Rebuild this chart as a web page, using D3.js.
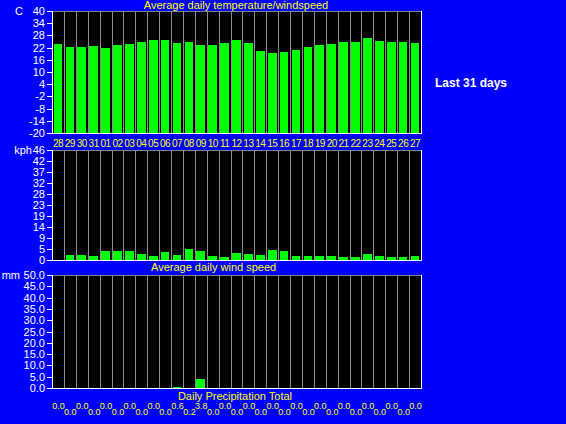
<!DOCTYPE html>
<html><head><meta charset="utf-8">
<script src="https://cdn.jsdelivr.net/npm/d3@7/dist/d3.min.js"></script>
<style>
html,body{margin:0;padding:0;background:#0000ff;}
svg{display:block;}
text{font-family:"Liberation Sans",Arial,sans-serif;}
</style></head><body>
<script>
const dates = ["28","29","30","31","01","02","03","04","05","06","07","08","09","10","11","12","13","14","15","16","17","18","19","20","21","22","23","24","25","26","27"];
const temps = [23.6,22.1,22.1,22.6,21.6,23.1,23.6,24.6,25.5,25.5,24.1,24.6,23.1,23.1,24.1,25.5,24.1,20.1,19.1,19.6,20.6,22.1,23.1,23.6,24.6,24.6,26.5,25.1,24.6,24.6,24.1];
const winds = [0,2.0,2.0,1.5,3.7,3.7,3.7,2.4,1.5,3.2,2.0,4.5,3.7,1.5,1.1,2.8,2.4,2.0,4.1,3.7,1.5,1.5,1.5,1.5,1.1,1.1,2.4,1.5,1.1,1.1,1.5];
const precip = [0,0,0,0,0,0,0,0,0,0,0.6,0.2,3.8,0,0,0,0,0,0,0,0,0,0,0,0,0,0,0,0,0,0];
const tempTicks = [-20,-14,-8,-2,4,10,16,22,28,34,40];
const windTickLabels = ["0","5","9","14","19","23","28","32","37","42","46"];
const precipTicks = [0,5,10,15,20,25,30,35,40,45,50];

const W = 566, H = 424;
const svg = d3.select("body").append("svg").attr("width", W).attr("height", H);
svg.append("rect").attr("width", W).attr("height", H).attr("fill", "#0000ff");

const x = d3.scaleBand().domain(d3.range(dates.length)).range([52, 421]).padding(0);

function panel(y0, y1, domain, values, tickVals, tickFmt, unit, unitX) {
  const y = d3.scaleLinear().domain(domain).range([y1, y0]);
  const g = svg.append("g").attr("shape-rendering", "crispEdges");
  g.append("rect").attr("x", 52).attr("y", y0).attr("width", 421 - 52).attr("height", y1 - y0).attr("fill", "#000");
  g.append("line").attr("x1", 52).attr("x2", 421).attr("y1", y0 + 0.5).attr("y2", y0 + 0.5).attr("stroke", "#808080");
  g.selectAll("line.grid").data(d3.range(1, dates.length)).join("line").attr("class", "grid")
    .attr("x1", d => Math.round(x(d)) + 0.5).attr("x2", d => Math.round(x(d)) + 0.5)
    .attr("y1", y0).attr("y2", y1).attr("stroke", "#8c8c8c").attr("stroke-width", 1);
  const base = y(domain[0]);
  g.selectAll("rect.bar").data(values).join("rect").attr("class", "bar")
    .attr("x", (d, i) => x(i) + 1.6).attr("width", x.bandwidth() - 3.2)
    .attr("y", d => base - Math.round(base - y(d)))
    .attr("height", d => Math.round(base - y(d)))
    .attr("fill", "#00ff00");
  g.append("line").attr("x1", 421.5).attr("x2", 421.5).attr("y1", y0).attr("y2", y1 + 1).attr("stroke", "#fff").attr("stroke-width", 1.5);
  g.append("line").attr("x1", 52).attr("x2", 422).attr("y1", y1 + 0.5).attr("y2", y1 + 0.5).attr("stroke", "#fff").attr("stroke-width", 1.5);
  const ax = d3.axisLeft(y).tickValues(tickVals).tickFormat(tickFmt).tickSize(5).tickPadding(2);
  const a = svg.append("g").attr("transform", "translate(52,0)").call(ax);
  a.select(".domain").attr("stroke", "#fff").attr("stroke-width", 1.5).attr("shape-rendering", "crispEdges");
  a.selectAll(".tick line").attr("stroke", "#fff").attr("shape-rendering", "crispEdges");
  a.selectAll(".tick text").attr("fill", "#fff").style("font-size", "11px").style("font-family", "Liberation Sans, Arial, sans-serif");
  svg.append("text").attr("x", unitX).attr("y", y0 + 4).attr("text-anchor", "end").attr("fill", "#fff").style("font-size", "11px").text(unit);
  return y;
}

panel(11, 133, [-20, 40], temps, tempTicks, d => d, "C", 23);
const windMax = 46;
panel(150, 260, [0, windMax], winds, d3.range(windTickLabels.length).map(i => i * windMax / (windTickLabels.length - 1)), (d, i) => windTickLabels[i], "kph", 32);
panel(275, 388, [0, 50], precip, precipTicks, d3.format(".1f"), "mm", 20);

svg.append("g").selectAll("text").data(dates).join("text")
  .attr("x", (d, i) => x(i) + x.bandwidth() / 2).attr("y", 146.5)
  .attr("text-anchor", "middle").attr("fill", "#ffff00").style("font-size", "10px").style("letter-spacing", "-0.5px").text(d => d);

svg.append("g").selectAll("text").data(precip).join("text")
  .attr("x", (d, i) => x(i) + x.bandwidth() / 2 + 0.5).attr("y", (d, i) => i % 2 === 0 ? 408.5 : 415)
  .attr("text-anchor", "middle").attr("fill", "#ffff00").style("font-size", "9px").text(d => d3.format(".1f")(d));

svg.append("text").attr("x", 236).attr("y", 9).attr("text-anchor", "middle").attr("fill", "#ffff00").style("font-size", "11px").text("Average daily temperature/windspeed");
svg.append("text").attr("x", 151).attr("y", 271).attr("fill", "#ffff00").style("font-size", "11px").text("Average daily wind speed");
svg.append("text").attr("x", 235).attr("y", 400).attr("text-anchor", "middle").attr("fill", "#ffff00").style("font-size", "11px").text("Daily Precipitation Total");
svg.append("text").attr("x", 435).attr("y", 87).attr("fill", "#fff").style("font-size", "12px").style("font-weight", "bold").text("Last 31 days");
</script>
</body></html>
